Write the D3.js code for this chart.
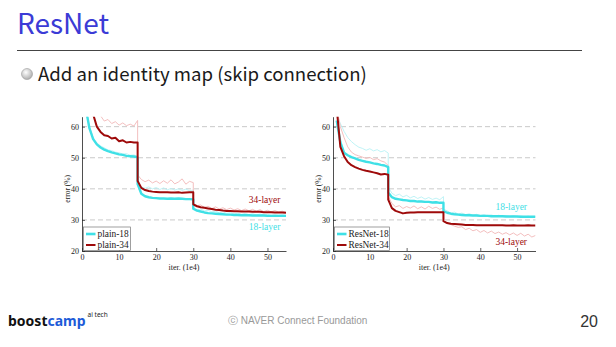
<!DOCTYPE html>
<html>
<head>
<meta charset="utf-8">
<script src="https://cdn.jsdelivr.net/npm/d3@7/dist/d3.min.js"></script>
<style>
  body { margin: 0; background: #fff; }
  svg { display: block; }
</style>
</head>
<body>
<svg id="slide" width="616" height="347"></svg>
<script>
/* global d3 */

// iterations (1e4); 15 and 30 appear twice for the learning-rate drops
const iters = [
	1, 2, 3, 4, 5, 6, 7, 8, 9, 10, 11, 12, 13, 14,
	15, 15,
	16, 17, 18, 19, 20, 21, 22, 23, 24, 25, 26, 27, 28, 29,
	30, 30,
	31, 32, 33, 34, 35, 36, 37, 38, 39, 40,
	41, 42, 43, 44, 45, 46, 47, 48, 49, 50, 51, 52, 53, 54, 55
];

const plain18Val = [
	66, 59.5, 56, 54.3, 53.3, 52.6, 52.1, 51.7, 51.4, 51.1, 50.9, 50.6, 50.5, 50.4,
	50.1, 41.5,
	38.4, 37.6, 37.3, 37.1, 37.0, 36.9, 36.9, 36.8, 36.9, 36.8, 36.9, 36.8, 36.7, 36.7,
	36.6, 33.6,
	33.0, 32.7, 32.4, 32.2, 32.1, 32.0, 31.9, 31.8, 31.7, 31.7,
	31.6, 31.6, 31.5, 31.5, 31.5, 31.4, 31.4, 31.4, 31.4, 31.3, 31.3, 31.3, 31.3, 31.3, 31.3
];
const plain18Train = [
	66.5, 60, 56.5, 54.8, 53.8, 53.2, 52.5, 52.3, 51.8, 51.6, 51.2, 51.3, 50.8, 50.9,
	50.5, 42.0,
	40.6, 40.2, 40.6, 40.0, 40.4, 39.8, 40.3, 39.7, 40.1, 39.6, 40.0, 39.5, 39.9, 39.4,
	39.6, 33.8,
	33.3, 33.5, 32.9, 33.1, 32.6, 32.8, 32.3, 32.6, 32.1, 32.4,
	31.9, 32.2, 31.8, 32.1, 31.7, 32.0, 31.6, 31.9, 31.6, 31.8, 31.5, 31.7, 31.5, 31.7, 31.4
];
const plain34Val = [
	75, 70, 64, 60.0, 58.3, 57.2, 57.0, 56.2, 56.4, 55.3, 55.6, 54.9, 55.1, 54.9,
	54.9, 42.5,
	40.3, 39.6, 39.3, 39.1, 39.0, 38.9, 38.9, 38.9, 38.8, 38.8, 38.9, 38.7, 38.8, 38.9,
	38.9, 35.0,
	34.4, 34.1, 33.9, 33.7, 33.5, 33.3, 33.2, 33.0, 32.9, 32.9,
	32.8, 32.8, 32.7, 32.7, 32.7, 32.6, 32.6, 32.6, 32.5, 32.5, 32.5, 32.4, 32.4, 32.4, 32.3
];
const plain34Train = [
	80, 75, 70, 66, 63.5, 61.8, 62.3, 61.0, 61.6, 60.5, 61.2, 60.3, 60.8, 60.2,
	62.0, 44.5,
	43.0, 42.3, 42.8, 41.9, 42.5, 41.7, 42.6, 41.8, 42.9, 41.6, 42.2, 43.2, 41.5, 42.4,
	42.0, 35.5,
	34.6, 34.8, 34.0, 34.4, 33.6, 34.2, 33.5, 33.9, 33.3, 33.8,
	33.2, 33.6, 33.0, 33.5, 32.9, 33.4, 32.8, 33.3, 32.7, 33.1, 32.6, 33.0, 32.5, 32.8, 32.4
];

const resnet18Val = [
	62, 55, 51.6, 50.8, 50.2, 49.8, 49.3, 49.0, 48.7, 48.5, 48.2, 48.0, 47.7, 47.5,
	47.0, 38.8,
	37.3, 36.8, 36.6, 36.4, 36.3, 36.1, 36.1, 35.9, 35.9, 35.8, 35.8, 35.6, 35.7, 35.5,
	35.5, 32.8,
	32.3, 32.0, 31.8, 31.7, 31.6, 31.5, 31.5, 31.4, 31.4, 31.3,
	31.3, 31.3, 31.2, 31.2, 31.2, 31.2, 31.1, 31.1, 31.1, 31.1, 31.0, 31.0, 31.0, 31.0, 31.0
];
const resnet18Train = [
	64, 61, 58.5, 56.5, 55.2, 54.2, 53.4, 53.0, 52.4, 52.9, 52.2, 52.6, 51.9, 52.3,
	51.5, 40.5,
	38.6, 37.8, 38.3, 37.4, 37.9, 37.1, 37.6, 36.9, 37.4, 36.7, 37.2, 36.6, 37.0, 36.5,
	37.5, 33.5,
	32.9, 32.2, 32.5, 31.9, 32.2, 31.7, 32.0, 31.5, 31.8, 31.4,
	31.7, 31.3, 31.6, 31.2, 31.5, 31.2, 31.4, 31.1, 31.4, 31.0, 31.3, 31.0, 31.2, 30.9, 31.1
];
const resnet34Val = [
	66, 53.5, 50.5, 48.6, 47.6, 47.0, 46.5, 46.1, 45.8, 45.6, 45.3, 45.0, 44.6, 44.8,
	44.5, 36.5,
	33.8, 32.9, 32.5, 32.1, 32.3, 32.4, 32.4, 32.5, 32.5, 32.5, 32.5, 32.5, 32.5, 32.5,
	32.5, 29.6,
	29.0, 28.8, 28.7, 28.6, 28.5, 28.4, 28.4, 28.4, 28.3, 28.3,
	28.3, 28.3, 28.3, 28.3, 28.3, 28.3, 28.2, 28.2, 28.3, 28.2, 28.2, 28.2, 28.3, 28.2, 28.2
];
const resnet34Train = [
	66, 60, 56.5, 53.5, 51.8, 51.0, 50.6, 50.2, 49.8, 50.1, 49.4, 49.7, 49.0, 48.6,
	47.5, 37.5,
	35.3, 34.2, 34.6, 33.7, 34.3, 33.8, 34.5, 33.6, 34.2, 33.5, 34.4, 33.7, 34.1, 33.4,
	33.9, 29.5,
	28.8, 28.5, 28.0, 27.6, 27.8, 26.9, 27.3, 26.5, 26.9, 26.0,
	26.6, 25.8, 26.4, 25.6, 26.1, 25.4, 25.9, 25.2, 25.8, 25.0, 25.7, 24.8, 25.4, 24.5, 25.0
];

const xTicks = [0, 10, 20, 30, 40, 50];
const yTicks = [20, 30, 40, 50, 60];
const gridTicks = [30, 40, 50, 60];

const CYAN = '#3fe0e6';
const CYAN_THIN = '#b8f2f5';
const RED = '#9e0a0a';
const RED_THIN = '#f2b8b8';
const SERIF = '"Liberation Serif", "DejaVu Serif", serif';
const SANS = '"Noto Sans CJK KR", "Noto Sans", sans-serif';

const X_MAX = 55;
const Y_MAX = 63.2;
const PLOT_TOP = 116.7;
const PLOT_BOTTOM = 251;

const $svg = d3.select('#slide');

// ---- slide chrome ----
$svg.append('text')
	.attr('x', 17).attr('y', 34)
	.attr('font-family', SANS).attr('font-size', 28)
	.attr('fill', '#3b3bd6')
	.text('ResNet');

$svg.append('line')
	.attr('x1', 17).attr('x2', 582).attr('y1', 50.5).attr('y2', 50.5)
	.attr('stroke', '#444').attr('stroke-width', 1.2);

const grad = $svg.append('defs').append('radialGradient')
	.attr('id', 'bullet').attr('cx', '40%').attr('cy', '35%').attr('r', '70%');
grad.append('stop').attr('offset', '0%').attr('stop-color', '#ffffff');
grad.append('stop').attr('offset', '100%').attr('stop-color', '#a9a9a9');

$svg.append('circle')
	.attr('cx', 27).attr('cy', 74).attr('r', 5.5)
	.attr('fill', 'url(#bullet)').attr('stroke', '#9a9a9a').attr('stroke-width', 0.6);

$svg.append('text')
	.attr('x', 38).attr('y', 81)
	.attr('font-family', SANS).attr('font-size', 18.6)
	.attr('fill', '#1a1a1a')
	.text('Add an identity map (skip connection)');

const $brand = $svg.append('text')
	.attr('x', 8).attr('y', 326)
	.attr('font-family', '"Noto Sans", sans-serif').attr('font-size', 14)
	.attr('font-weight', 700);
$brand.append('tspan').attr('fill', '#111').text('boost');
$brand.append('tspan').attr('fill', '#1d5bd8').text('camp');
const brandEnd = 8 + $brand.node().getComputedTextLength();
$svg.append('text')
	.attr('x', brandEnd + 2).attr('y', 317)
	.attr('font-family', '"Noto Sans", sans-serif').attr('font-size', 6.5)
	.attr('fill', '#222')
	.text('ai tech');

$svg.append('text')
	.attr('x', 228).attr('y', 324)
	.attr('font-family', '"Liberation Sans", Arial, sans-serif').attr('font-size', 10)
	.attr('fill', '#999')
	.text('\u24d2  NAVER Connect Foundation');

$svg.append('text')
	.attr('x', 598).attr('y', 327).attr('text-anchor', 'end')
	.attr('font-family', '"Liberation Sans", Arial, sans-serif').attr('font-size', 16)
	.attr('fill', '#333')
	.text('20');

// ---- one training-curve panel ----
function drawPanel({ id, left, width, names, thin, thick, labels, legendBox }) {
	const x = d3.scaleLinear().domain([0, X_MAX]).range([left, left + width]);
	const y = d3.scaleLinear().domain([20, Y_MAX]).range([PLOT_BOTTOM, PLOT_TOP]);
	const $g = $svg.append('g').attr('class', 'panel');

	$g.append('clipPath').attr('id', `clip-${id}`)
		.append('rect')
		.attr('x', x(0)).attr('y', y(Y_MAX))
		.attr('width', x(X_MAX) - x(0)).attr('height', y(20) - y(Y_MAX));

	$g.append('g')
		.selectAll('line')
		.data(gridTicks)
		.join('line')
		.attr('x1', x(0)).attr('x2', x(X_MAX))
		.attr('y1', d => y(d)).attr('y2', d => y(d))
		.attr('stroke', '#bdbdbd').attr('stroke-width', 0.8)
		.attr('stroke-dasharray', '5,3');

	const line = d3.line()
		.x((d, i) => x(iters[i]))
		.y(d => y(d));

	const $lines = $g.append('g').attr('clip-path', `url(#clip-${id})`);
	thin.forEach((vals, k) => {
		$lines.append('path')
			.attr('d', line(vals))
			.attr('fill', 'none')
			.attr('stroke', k === 0 ? CYAN_THIN : RED_THIN)
			.attr('stroke-width', 0.9);
	});
	thick.forEach((vals, k) => {
		$lines.append('path')
			.attr('d', line(vals))
			.attr('fill', 'none')
			.attr('stroke', k === 0 ? CYAN : RED)
			.attr('stroke-width', k === 0 ? 2.4 : 2)
			.attr('stroke-linejoin', 'round');
	});

	const yAxis = d3.axisLeft(y).tickValues(yTicks).tickSize(-3).tickSizeOuter(0).tickPadding(3);
	const xAxis = d3.axisBottom(x).tickValues(xTicks).tickSize(-3).tickSizeOuter(0).tickPadding(3);

	const $ya = $g.append('g').attr('transform', `translate(${x(0)},0)`).call(yAxis);
	const $xa = $g.append('g').attr('transform', `translate(0,${y(20)})`).call(xAxis);
	[$ya, $xa].forEach($a => {
		$a.select('.domain').attr('stroke', '#222').attr('stroke-width', 0.8);
		$a.selectAll('.tick line').attr('stroke', '#222').attr('stroke-width', 0.7);
		$a.selectAll('.tick text')
			.attr('font-family', SERIF).attr('font-size', 8).attr('fill', '#222');
	});
	$ya.selectAll('.tick text').attr('dy', '0.3em');

	$g.append('text')
		.attr('transform', `translate(${x(0) - 12},${y(40)}) rotate(-90)`)
		.attr('text-anchor', 'middle')
		.attr('font-family', SERIF).attr('font-size', 7.5).attr('fill', '#222')
		.text('error (%)');

	$g.append('text')
		.attr('x', x(27.5)).attr('y', y(20) + 18.5)
		.attr('text-anchor', 'middle')
		.attr('font-family', SERIF).attr('font-size', 8).attr('fill', '#222')
		.text('iter. (1e4)');

	// curve labels at the right end
	labels.forEach(l => {
		$g.append('text')
			.attr('x', x(l.at)).attr('y', y(l.value))
			.attr('text-anchor', 'end')
			.attr('font-family', SERIF).attr('font-size', 9.5)
			.attr('fill', l.color)
			.text(l.text);
	});

	// legend
	const lx = x(0) + 1.5;
	const ly = y(20) - 24;
	const $leg = $g.append('g').attr('transform', `translate(${lx},${ly})`);
	$leg.append('rect')
		.attr('width', legendBox).attr('height', 23.5)
		.attr('fill', '#fff').attr('stroke', '#777').attr('stroke-width', 0.7);
	names.forEach((n, k) => {
		const yy = 7 + k * 11;
		$leg.append('line')
			.attr('x1', 2.5).attr('x2', 12).attr('y1', yy).attr('y2', yy)
			.attr('stroke', k === 0 ? CYAN : RED)
			.attr('stroke-width', k === 0 ? 2.6 : 2);
		$leg.append('text')
			.attr('x', 14).attr('y', yy + 3.3)
			.attr('font-family', SERIF).attr('font-size', 9.4).attr('fill', '#222')
			.text(n);
	});
}

drawPanel({
	id: 'plain',
	left: 82,
	width: 204,
	names: ['plain-18', 'plain-34'],
	thin: [plain18Train, plain34Train],
	thick: [plain18Val, plain34Val],
	labels: [
		{ text: '34-layer', at: 53.5, value: 35.5, color: RED },
		{ text: '18-layer', at: 53.5, value: 26.8, color: CYAN }
	],
	legendBox: 47
});

drawPanel({
	id: 'resnet',
	left: 333,
	width: 202.5,
	names: ['ResNet-18', 'ResNet-34'],
	thin: [resnet18Train, resnet34Train],
	thick: [resnet18Val, resnet34Val],
	labels: [
		{ text: '18-layer', at: 52.7, value: 33.2, color: CYAN },
		{ text: '34-layer', at: 52.7, value: 21.9, color: RED }
	],
	legendBox: 55
});
</script>
</body>
</html>
